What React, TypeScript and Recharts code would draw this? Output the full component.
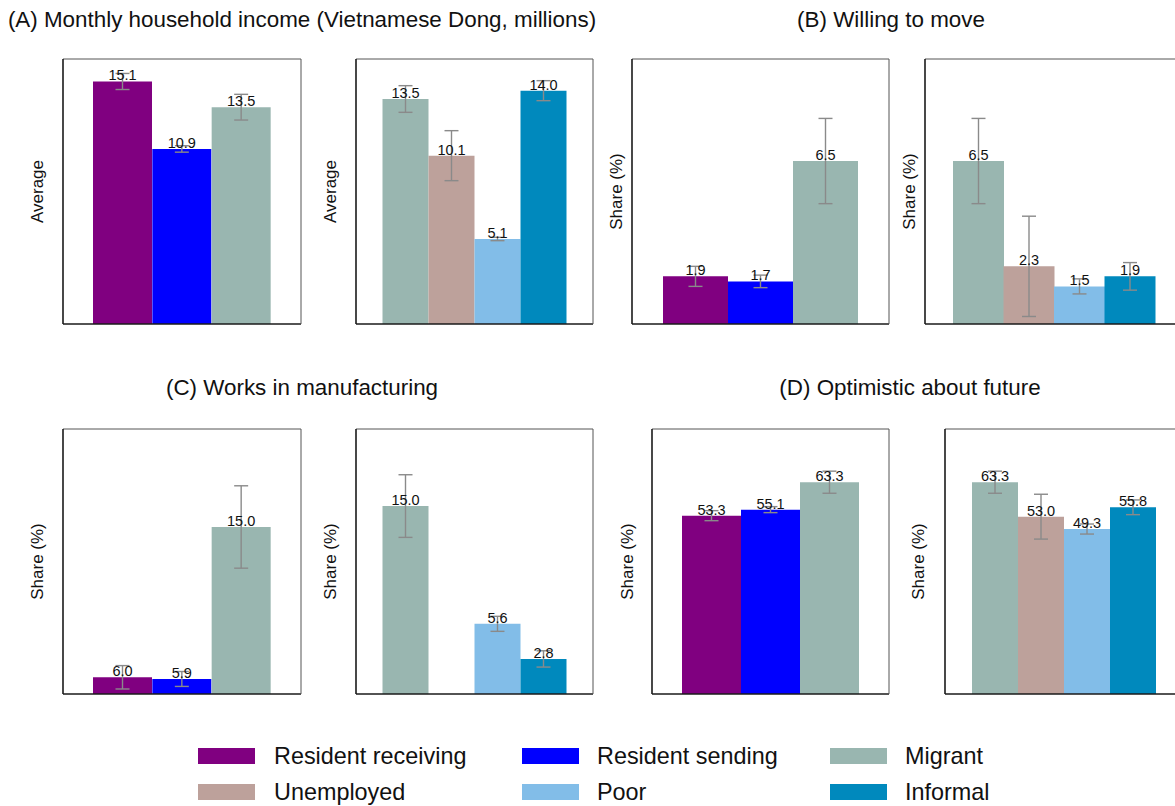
import React from 'react';
import { BarChart, Bar, XAxis, YAxis, Cell, ErrorBar, LabelList } from 'recharts';

// groups and colours
const groupsResident = ['Resident receiving', 'Resident sending', 'Migrant'];
const groupsStatus = ['Migrant', 'Unemployed', 'Poor', 'Informal'];
const groupColors: Record<string, string> = {
  'Resident receiving': '#800080',
  'Resident sending': '#0000ff',
  Migrant: '#99b6b0',
  Unemployed: '#bda19b',
  Poor: '#82bde8',
  Informal: '#0089bd',
};
const legendRows = [
  ['Resident receiving', 'Resident sending', 'Migrant'],
  ['Unemployed', 'Poor', 'Informal'],
];

// (A) income
const incomeResident = [15.1, 10.9, 13.5];
const incomeResidentErr = [0.5, 0.2, 0.8];
const incomeStatus = [13.5, 10.1, 5.1, 14.0];
const incomeStatusErr = [0.8, 1.5, 0.1, 0.6];

// (B) willing to move
const moveResident = [1.9, 1.7, 6.5];
const moveResidentErr = [0.4, 0.25, 1.7];
const moveStatus = [6.5, 2.3, 1.5, 1.9];
const moveStatusErr = [1.7, 2.0, 0.3, 0.55];

// (C) manufacturing (bar heights as drawn; printed labels differ for residents)
const manufResident = [1.5, 1.35, 15.0];
const manufResidentLabels = ['6.0', '5.9', '15.0'];
const manufResidentErr = [1.05, 0.67, 3.7];
const manufStatus = [15.0, null, 5.6, 2.8];
const manufStatusErr = [2.5, 0, 0.6, 0.65];

// (D) optimistic
const optimResident = [53.3, 55.1, 63.3];
const optimResidentErr = [1.5, 0.9, 3.3];
const optimStatus = [63.3, 53.0, 49.3, 55.8];
const optimStatusErr = [3.3, 6.7, 1.5, 2.2];

const FONT = "'Liberation Sans', Arial, Helvetica, sans-serif";

function makeRows(groups: string[], values: (number | null)[], errs: number[], labels?: string[]) {
  return groups.map((g, i) => ({
    name: g,
    value: values[i],
    err: errs[i],
    label: values[i] == null ? null : labels ? labels[i] : (values[i] as number).toFixed(1),
    color: groupColors[g],
  }));
}

const renderValue = (p: any) => {
  if (p.value == null) return null;
  return (
    <text x={p.x + p.width / 2} y={p.y - 1} textAnchor="middle" fontSize={14.5} fontFamily={FONT} fill="#111">
      {p.value}
    </text>
  );
};

const LEFT = 40;
const EDGE = 4;

type Box = { left: number; top: number; w: number; h: number; gap: number; pad: number };

function Panel({ rows, domain, yLabel, box }: { rows: any[]; domain: [number, number]; yLabel: string; box: Box }) {
  const { left, top, w, h, gap, pad } = box;
  const yLabelContent = (props: any) => {
    const vb = props.viewBox || { x: 0, y: EDGE, width: LEFT, height: h };
    const cx = vb.x + vb.width - gap;
    const cy = vb.y + vb.height / 2;
    return (
      <text
        x={cx}
        y={cy}
        transform={`rotate(-90, ${cx}, ${cy})`}
        textAnchor="middle"
        dominantBaseline="central"
        fontSize={17}
        fontFamily={FONT}
        fill="#111"
      >
        {yLabel}
      </text>
    );
  };
  return (
    <div style={{ position: 'absolute', left: left - LEFT, top: top - EDGE }}>
      <BarChart
        width={w + LEFT + EDGE}
        height={h + 2 * EDGE}
        data={rows}
        margin={{ top: EDGE - 1, right: EDGE - 1, bottom: EDGE - 1, left: 0 }}
        barCategoryGap={0}
      >
        <XAxis
          dataKey="name"
          height={1}
          tick={false}
          tickLine={false}
          axisLine={{ stroke: '#1a1a1a', strokeWidth: 1.6 }}
          padding={{ left: pad, right: pad }}
        />
        <XAxis
          xAxisId="top"
          orientation="top"
          dataKey="name"
          height={1}
          tick={false}
          tickLine={false}
          axisLine={{ stroke: '#555', strokeWidth: 1 }}
        />
        <YAxis
          width={LEFT}
          domain={domain}
          allowDataOverflow
          tick={false}
          tickLine={false}
          axisLine={{ stroke: '#1a1a1a', strokeWidth: 1.6 }}
          label={yLabelContent}
        />
        <YAxis
          yAxisId="right"
          orientation="right"
          width={1}
          domain={domain}
          tick={false}
          tickLine={false}
          axisLine={{ stroke: '#555', strokeWidth: 1 }}
        />
        <Bar dataKey="value" isAnimationActive={false}>
          {rows.map((r) => (
            <Cell key={r.name} fill={r.color} />
          ))}
          <ErrorBar dataKey="err" width={7} stroke="#8a8a8a" strokeWidth={1.4} direction="y" />
          <LabelList dataKey="label" content={renderValue} />
        </Bar>
      </BarChart>
    </div>
  );
}

function Title({ text, center, top }: { text: string; center: number; top: number }) {
  return (
    <div
      style={{
        position: 'absolute',
        left: center - 350,
        width: 700,
        top,
        textAlign: 'center',
        fontSize: 22.4,
        lineHeight: '22px',
        fontFamily: FONT,
        color: '#111',
        whiteSpace: 'nowrap',
      }}
    >
      {text}
    </div>
  );
}

const legendCols = [
  { sw: 198, tx: 274 },
  { sw: 522, tx: 597 },
  { sw: 830, tx: 905 },
];
const legendRowY = [756, 792];

export default function App() {
  return (
    <div
      style={{
        position: 'absolute',
        left: 0,
        top: 0,
        width: 1175,
        height: 806,
        overflow: 'hidden',
        background: '#fff',
        fontFamily: FONT,
      }}
    >
      <Title text="(A) Monthly household income (Vietnamese Dong, millions)" center={302} top={9} />
      <Title text="(B) Willing to move" center={891} top={9} />
      <Title text="(C) Works in manufacturing" center={302} top={377} />
      <Title text="(D) Optimistic about future" center={910} top={377} />

      <Panel
        rows={makeRows(groupsResident, incomeResident, incomeResidentErr)}
        domain={[0, 16.5]}
        yLabel="Average"
        box={{ left: 63, top: 59, w: 238, h: 265, gap: 26, pad: 30 }}
      />
      <Panel
        rows={makeRows(groupsStatus, incomeStatus, incomeStatusErr)}
        domain={[0, 15.9]}
        yLabel="Average"
        box={{ left: 356, top: 59, w: 237, h: 265, gap: 26, pad: 26.5 }}
      />
      <Panel
        rows={makeRows(groupsResident, moveResident, moveResidentErr)}
        domain={[0, 10.57]}
        yLabel="Share (%)"
        box={{ left: 632, top: 59, w: 257, h: 265, gap: 16, pad: 31 }}
      />
      <Panel
        rows={makeRows(groupsStatus, moveStatus, moveStatusErr)}
        domain={[0, 10.57]}
        yLabel="Share (%)"
        box={{ left: 925, top: 59, w: 258, h: 265, gap: 16, pad: 28 }}
      />
      <Panel
        rows={makeRows(groupsResident, manufResident, manufResidentErr, manufResidentLabels)}
        domain={[0, 23.8]}
        yLabel="Share (%)"
        box={{ left: 63, top: 428.5, w: 238, h: 265, gap: 26, pad: 30 }}
      />
      <Panel
        rows={makeRows(groupsStatus, manufStatus, manufStatusErr)}
        domain={[0, 21.15]}
        yLabel="Share (%)"
        box={{ left: 356, top: 428.5, w: 237, h: 265, gap: 26, pad: 26.5 }}
      />
      <Panel
        rows={makeRows(groupsResident, optimResident, optimResidentErr)}
        domain={[0, 79.2]}
        yLabel="Share (%)"
        box={{ left: 652, top: 428.5, w: 237, h: 265, gap: 25, pad: 30 }}
      />
      <Panel
        rows={makeRows(groupsStatus, optimStatus, optimStatusErr)}
        domain={[0, 79.2]}
        yLabel="Share (%)"
        box={{ left: 945, top: 428.5, w: 238, h: 265, gap: 27, pad: 27 }}
      />

      {legendRows.map((row, ri) =>
        row.map((name, ci) => (
          <React.Fragment key={name}>
            <div
              style={{
                position: 'absolute',
                left: legendCols[ci].sw,
                top: legendRowY[ri] - 8,
                width: 57,
                height: 16,
                background: groupColors[name],
              }}
            />
            <div
              style={{
                position: 'absolute',
                left: legendCols[ci].tx,
                top: legendRowY[ri] - 12,
                fontSize: 23.4,
                lineHeight: '24px',
                color: '#111',
                whiteSpace: 'nowrap',
              }}
            >
              {name}
            </div>
          </React.Fragment>
        ))
      )}
    </div>
  );
}
